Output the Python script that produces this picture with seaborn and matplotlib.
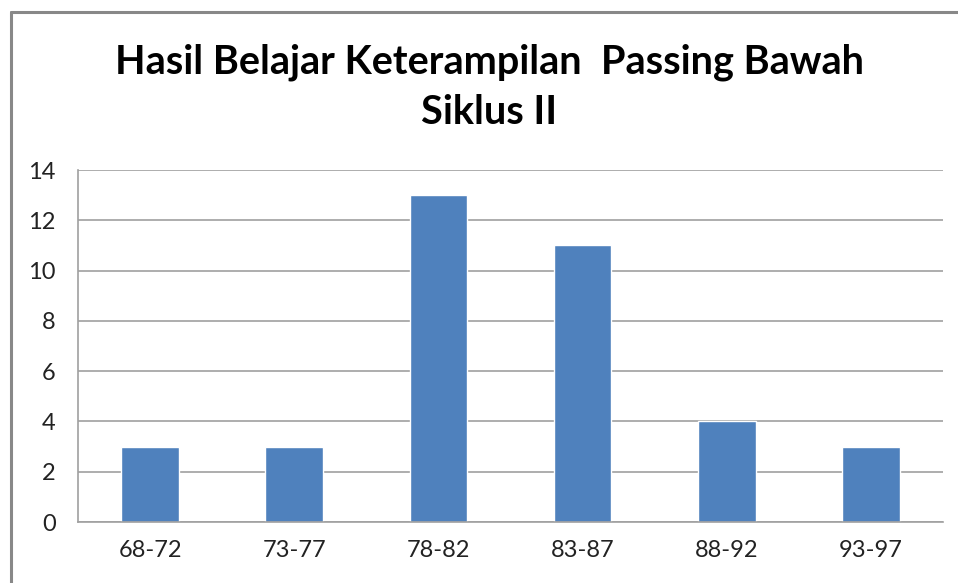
import matplotlib
matplotlib.use("Agg")
import matplotlib.pyplot as plt
import seaborn as sns
import pandas as pd
from matplotlib.lines import Line2D

# data
categories = ["68-72", "73-77", "78-82", "83-87", "88-92", "93-97"]
counts = [3, 3, 13, 11, 4, 3]
yticks = [0, 2, 4, 6, 8, 10, 12, 14]

sns.set_theme(style="white")
plt.rcParams["font.family"] = ["Lato", "DejaVu Sans"]

df = pd.DataFrame({"kelas": categories, "jumlah": counts})

fig = plt.figure(figsize=(9.58, 5.83), dpi=100)
ax = fig.add_axes([0.0814, 0.1046, 0.9029, 0.6038])

sns.barplot(data=df, x="kelas", y="jumlah", color="#4F81BD", saturation=1,
            width=0.4, ax=ax)

ax.set_ylim(0, 14)
ax.set_yticks(yticks)
ax.yaxis.grid(True, color="#A0A0A0", linewidth=1.2)
ax.set_axisbelow(True)
ax.set_xlabel("")
ax.set_ylabel("")
ax.tick_params(axis="both", labelsize=17, colors="#222222", length=0)
ax.tick_params(axis="x", pad=13)
ax.tick_params(axis="y", pad=16)
for s in ["top", "right"]:
    ax.spines[s].set_visible(False)
for s in ["left", "bottom"]:
    ax.spines[s].set_color("#A0A0A0")
    ax.spines[s].set_linewidth(1.2)

title_kw = dict(ha="center", va="center", fontsize=28.5, fontweight="bold", color="black")
fig.text(0.511, 1 - 62 / 583, "Hasil Belajar Keterampilan  Passing Bawah", **title_kw)
fig.text(0.511, 1 - 112 / 583, "Siklus II", **title_kw)

# outer chart frame (left and top edges visible)
x0, y0 = 10.5 / 958, 1 - 12 / 583
fig.add_artist(Line2D([x0, x0], [0, y0], transform=fig.transFigure,
                      color="#888888", linewidth=2.2))
fig.add_artist(Line2D([x0, 1], [y0, y0], transform=fig.transFigure,
                      color="#888888", linewidth=2.2))

fig.savefig("out.png", dpi=100)
